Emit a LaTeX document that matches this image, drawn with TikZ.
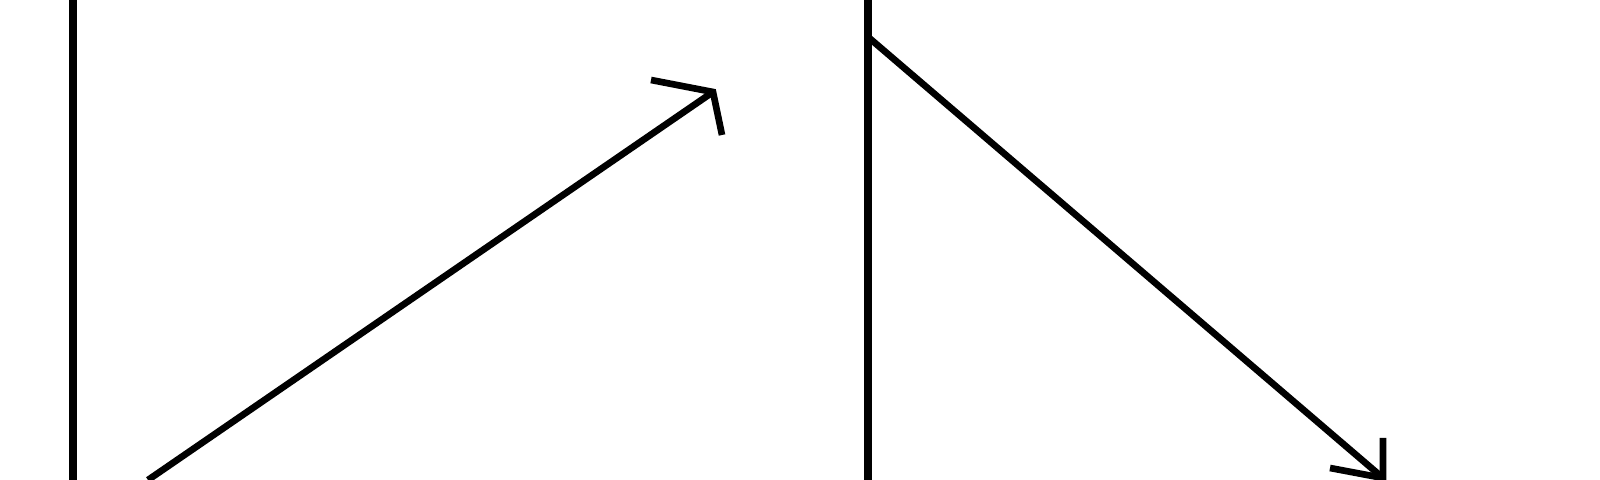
\documentclass[tikz,border=0pt]{standalone}
\usepackage{tikz}
\usetikzlibrary{arrows.meta}

\begin{document}
\begin{tikzpicture}[x=1cm,y=1cm,
  wall/.style={line width=2.2pt,black},
  ar/.style={line width=1.9pt,black},
  barb/.style={line width=1.9pt,black,line cap=butt}]
\useasboundingbox (0,0) rectangle (16,4.8);
% walls
\coordinate (Lb) at (0.73,0); \coordinate (Lt) at (0.73,4.8);
\coordinate (Rb) at (8.68,0); \coordinate (Rt) at (8.68,4.8);
\draw[wall] (Lb)--(Lt); \draw[wall] (Rb)--(Rt);
% rising arrow
\coordinate (a0) at (1.48,0); \coordinate (a1) at (7.13,3.88);
\coordinate (a1l) at (6.51,4.00); \coordinate (a1r) at (7.22,3.45);
\draw[ar] (a0)--(a1);
\draw[barb] (a1l)--(a1)--(a1r);
% falling arrow
\coordinate (b0) at (8.68,4.43); \coordinate (b1) at (13.83,0.02);
\coordinate (b1u) at (13.83,0.42); \coordinate (b1l) at (13.30,0.12);
\draw[ar] (b0)--(b1);
\draw[barb] (b1u)--(b1)--(b1l);
\end{tikzpicture}
\end{document}
